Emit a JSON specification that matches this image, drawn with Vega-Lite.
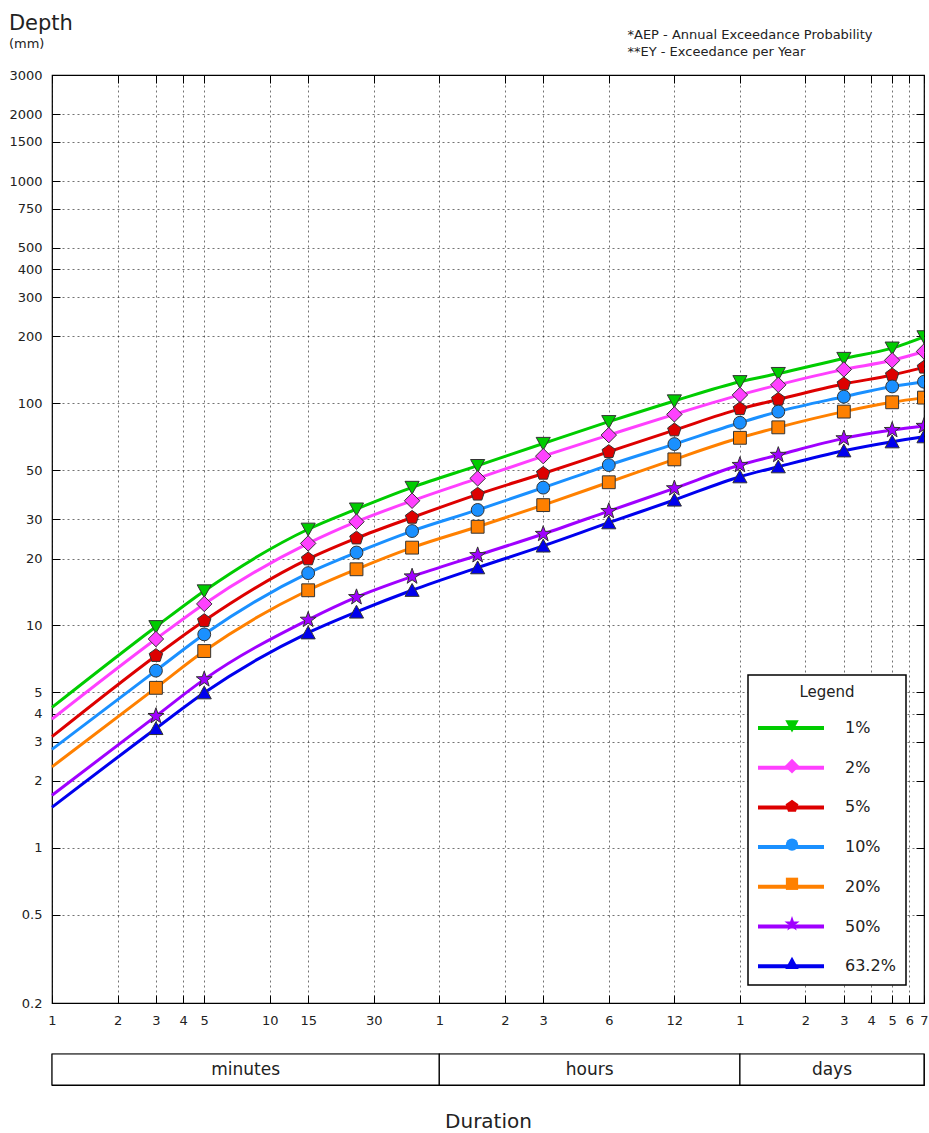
{
  "$schema": "https://vega.github.io/schema/vega-lite/v6.json",
  "padding": {"left": 8, "top": 12, "right": 4, "bottom": 0},
  "spacing": 24,
  "config": {
    "font": "DejaVu Sans",
    "view": {"stroke": "#000", "strokeWidth": 1.2},
    "axis": {"labelFont": "DejaVu Sans", "labelFontSize": 13, "labelColor": "#222", "tickColor": "#000", "tickSize": -8, "domain": false, "gridColor": "#000", "gridOpacity": 0.55, "gridDash": [2, 3], "labelFlush": false, "labelOverlap": false},
    "legend": {"strokeWidth": 1.5, "labelFont": "DejaVu Sans", "titleFont": "DejaVu Sans"}
  },
  "datasets": {
    "ifd": [
      {"d":1,"aep":"1%","v":4.28,"m":false},{"d":3,"aep":"1%","v":9.87,"m":true},{"d":5,"aep":"1%","v":14.3,"m":true},{"d":15,"aep":"1%","v":27.1,"m":true},{"d":25,"aep":"1%","v":33.4,"m":true},{"d":45,"aep":"1%","v":41.8,"m":true},{"d":90,"aep":"1%","v":52.4,"m":true},{"d":180,"aep":"1%","v":65.9,"m":true},{"d":360,"aep":"1%","v":82.6,"m":true},{"d":720,"aep":"1%","v":102.4,"m":true},{"d":1440,"aep":"1%","v":125,"m":true},{"d":2160,"aep":"1%","v":136,"m":true},{"d":4320,"aep":"1%","v":159,"m":true},{"d":7200,"aep":"1%","v":177,"m":true},{"d":10080,"aep":"1%","v":199,"m":true},
      {"d":1,"aep":"2%","v":3.79,"m":false},{"d":3,"aep":"2%","v":8.69,"m":true},{"d":5,"aep":"2%","v":12.5,"m":true},{"d":15,"aep":"2%","v":23.4,"m":true},{"d":25,"aep":"2%","v":29.3,"m":true},{"d":45,"aep":"2%","v":36.4,"m":true},{"d":90,"aep":"2%","v":45.9,"m":true},{"d":180,"aep":"2%","v":57.8,"m":true},{"d":360,"aep":"2%","v":71.9,"m":true},{"d":720,"aep":"2%","v":89.1,"m":true},{"d":1440,"aep":"2%","v":109,"m":true},{"d":2160,"aep":"2%","v":121,"m":true},{"d":4320,"aep":"2%","v":142,"m":true},{"d":7200,"aep":"2%","v":156,"m":true},{"d":10080,"aep":"2%","v":171,"m":true},
      {"d":1,"aep":"5%","v":3.16,"m":false},{"d":3,"aep":"5%","v":7.31,"m":true},{"d":5,"aep":"5%","v":10.5,"m":true},{"d":15,"aep":"5%","v":19.9,"m":true},{"d":25,"aep":"5%","v":24.7,"m":true},{"d":45,"aep":"5%","v":30.6,"m":true},{"d":90,"aep":"5%","v":38.9,"m":true},{"d":180,"aep":"5%","v":48.3,"m":true},{"d":360,"aep":"5%","v":60.5,"m":true},{"d":720,"aep":"5%","v":75.7,"m":true},{"d":1440,"aep":"5%","v":94.3,"m":true},{"d":2160,"aep":"5%","v":104,"m":true},{"d":4320,"aep":"5%","v":122,"m":true},{"d":7200,"aep":"5%","v":134,"m":true},{"d":10080,"aep":"5%","v":145,"m":true},
      {"d":1,"aep":"10%","v":2.77,"m":false},{"d":3,"aep":"10%","v":6.26,"m":true},{"d":5,"aep":"10%","v":9.12,"m":true},{"d":15,"aep":"10%","v":17.2,"m":true},{"d":25,"aep":"10%","v":21.3,"m":true},{"d":45,"aep":"10%","v":26.6,"m":true},{"d":90,"aep":"10%","v":33.1,"m":true},{"d":180,"aep":"10%","v":41.7,"m":true},{"d":360,"aep":"10%","v":52.7,"m":true},{"d":720,"aep":"10%","v":65.5,"m":true},{"d":1440,"aep":"10%","v":81.7,"m":true},{"d":2160,"aep":"10%","v":91.7,"m":true},{"d":4320,"aep":"10%","v":107,"m":true},{"d":7200,"aep":"10%","v":119,"m":true},{"d":10080,"aep":"10%","v":125,"m":true},
      {"d":1,"aep":"20%","v":2.31,"m":false},{"d":3,"aep":"20%","v":5.24,"m":true},{"d":5,"aep":"20%","v":7.67,"m":true},{"d":15,"aep":"20%","v":14.4,"m":true},{"d":25,"aep":"20%","v":17.9,"m":true},{"d":45,"aep":"20%","v":22.4,"m":true},{"d":90,"aep":"20%","v":27.8,"m":true},{"d":180,"aep":"20%","v":34.8,"m":true},{"d":360,"aep":"20%","v":44.1,"m":true},{"d":720,"aep":"20%","v":55.9,"m":true},{"d":1440,"aep":"20%","v":69.9,"m":true},{"d":2160,"aep":"20%","v":77.9,"m":true},{"d":4320,"aep":"20%","v":91.7,"m":true},{"d":7200,"aep":"20%","v":101,"m":true},{"d":10080,"aep":"20%","v":106,"m":true},
      {"d":1,"aep":"50%","v":1.72,"m":false},{"d":3,"aep":"50%","v":3.91,"m":true},{"d":5,"aep":"50%","v":5.72,"m":true},{"d":15,"aep":"50%","v":10.6,"m":true},{"d":25,"aep":"50%","v":13.4,"m":true},{"d":45,"aep":"50%","v":16.6,"m":true},{"d":90,"aep":"50%","v":20.7,"m":true},{"d":180,"aep":"50%","v":25.8,"m":true},{"d":360,"aep":"50%","v":32.7,"m":true},{"d":720,"aep":"50%","v":41.4,"m":true},{"d":1440,"aep":"50%","v":52.7,"m":true},{"d":2160,"aep":"50%","v":58.5,"m":true},{"d":4320,"aep":"50%","v":69.5,"m":true},{"d":7200,"aep":"50%","v":75.7,"m":true},{"d":10080,"aep":"50%","v":79.0,"m":true},
      {"d":1,"aep":"63.2%","v":1.52,"m":false},{"d":3,"aep":"63.2%","v":3.44,"m":true},{"d":5,"aep":"63.2%","v":4.98,"m":true},{"d":15,"aep":"63.2%","v":9.27,"m":true},{"d":25,"aep":"63.2%","v":11.5,"m":true},{"d":45,"aep":"63.2%","v":14.4,"m":true},{"d":90,"aep":"63.2%","v":18.2,"m":true},{"d":180,"aep":"63.2%","v":22.8,"m":true},{"d":360,"aep":"63.2%","v":29.0,"m":true},{"d":720,"aep":"63.2%","v":36.7,"m":true},{"d":1440,"aep":"63.2%","v":46.7,"m":true},{"d":2160,"aep":"63.2%","v":51.8,"m":true},{"d":4320,"aep":"63.2%","v":61.1,"m":true},{"d":7200,"aep":"63.2%","v":67.1,"m":true},{"d":10080,"aep":"63.2%","v":70.7,"m":true}
    ],
    "units": [
      {"unit": "minutes", "start": 1, "end": 60},
      {"unit": "hours", "start": 60, "end": 1440},
      {"unit": "days", "start": 1440, "end": 10080}
    ]
  },
  "vconcat": [
    {
      "width": 872,
      "height": 928,
      "data": {"name": "ifd"},
      "title": {"text": "Depth", "subtitle": "(mm)", "anchor": "start", "frame": "bounds", "fontSize": 21, "fontWeight": "normal", "subtitleFontSize": 13, "subtitlePadding": 4, "offset": -23, "color": "#222", "subtitleColor": "#222", "font": "DejaVu Sans", "subtitleFont": "DejaVu Sans"},
      "layer": [
        {
          "mark": {"type": "line", "strokeWidth": 3, "interpolate": "monotone"},
          "encoding": {
            "x": {"field": "d", "type": "quantitative", "scale": {"type": "log", "domain": [1, 10080], "nice": false},
              "axis": {"values": [1,2,3,4,5,10,15,30,60,120,180,360,720,1440,2880,4320,5760,7200,8640,10080], "labelExpr": "datum.value < 60 ? '' + datum.value : (datum.value < 1440 ? '' + datum.value / 60 : '' + datum.value / 1440)", "title": null, "grid": true, "labelPadding": 19}},
            "y": {"field": "v", "type": "quantitative", "scale": {"type": "log", "domain": [0.2, 3000], "nice": false},
              "axis": {"values": [0.2,0.5,1,2,3,4,5,10,20,30,50,100,200,300,400,500,750,1000,1500,2000,3000], "format": "~g", "grid": true, "labelPadding": 18,
                "title": ["*AEP - Annual Exceedance Probability", "**EY - Exceedance per Year"], "titleAngle": 0, "titleAlign": "left", "titleBaseline": "top", "titleX": 575, "titleY": -47, "titleFontSize": 13, "titleFontWeight": "normal", "titleLineHeight": 17, "titleColor": "#222", "titleFont": "DejaVu Sans"}},
            "color": {"field": "aep", "type": "nominal", "sort": ["1%","2%","5%","10%","20%","50%","63.2%"],
              "scale": {"range": ["#00cc00","#ff40ff","#dd0000","#1a90ff","#ff8000","#a000ff","#0000ee"]},
              "legend": {"orient": "none", "legendX": 696, "legendY": 600, "title": "Legend", "titleFontSize": 15, "titleFontWeight": "normal", "titleColor": "#222", "titleAnchor": "middle", "titlePadding": 20, "labelFontSize": 16, "labelColor": "#222", "symbolType": "M-6,0H6", "symbolSize": 121, "symbolStrokeWidth": 4, "symbolOffset": 25, "labelOffset": 46, "rowPadding": 23.7, "padding": 10, "strokeColor": "#000", "fillColor": "#fff"}}
          }
        },
        {
          "transform": [{"filter": "datum.m"}],
          "mark": {"type": "point", "filled": true, "size": 165, "stroke": "#333", "strokeWidth": 1, "opacity": 1, "clip": true},
          "encoding": {
            "x": {"field": "d", "type": "quantitative", "scale": {"type": "log", "domain": [1, 10080], "nice": false},
              "axis": {"orient": "top", "values": [1,2,3,4,5,10,15,30,60,120,180,360,720,1440,2880,4320,5760,7200,8640,10080], "labels": false, "grid": false, "title": null}},
            "y": {"field": "v", "type": "quantitative", "scale": {"type": "log", "domain": [0.2, 3000], "nice": false},
              "axis": {"orient": "right", "values": [0.2,0.5,1,2,3,4,5,10,20,30,50,100,200,300,400,500,750,1000,1500,2000,3000], "labels": false, "grid": false, "title": null}},
            "shape": {"field": "aep", "type": "nominal",
              "scale": {"domain": ["1%","2%","5%","10%","20%","50%","63.2%"], "range": ["M-1.1,-0.95L1.1,-0.95L0,1.05Z", "M0,-1.2L1.2,0L0,1.2L-1.2,0Z", "M0,-1.1L1.046,-0.34L0.647,0.89L-0.647,0.89L-1.046,-0.34Z", "circle", "square", "M0,-1.3L0.306,-0.421L1.236,-0.402L0.495,0.161L0.764,1.052L0,0.52L-0.764,1.052L-0.495,0.161L-1.236,-0.402L-0.306,-0.421Z", "M0,-1.05L1.1,0.95L-1.1,0.95Z"]},
              "legend": {"orient": "none", "legendX": 696, "legendY": 633, "title": null, "labelExpr": "''", "labelFontSize": 16, "symbolSize": 150, "symbolStrokeColor": "#333", "symbolStrokeWidth": 1, "symbolOpacity": 1, "symbolOffset": 26, "rowPadding": 21.2, "padding": 10}},
            "fill": {"field": "aep", "type": "nominal",
              "scale": {"domain": ["1%","2%","5%","10%","20%","50%","63.2%"], "range": ["#00cc00","#ff40ff","#dd0000","#1a90ff","#ff8000","#a000ff","#0000ee"]},
              "legend": {"orient": "none", "legendX": 696, "legendY": 633, "title": null, "labelExpr": "''", "labelFontSize": 16, "symbolSize": 150, "symbolStrokeColor": "#333", "symbolStrokeWidth": 1, "symbolOpacity": 1, "symbolOffset": 26, "rowPadding": 21.2, "padding": 10}}
          }
        }
      ],
      "resolve": {"axis": {"x": "independent", "y": "independent"}}
    },
    {
      "width": 872,
      "height": 31,
      "data": {"name": "units"},
      "layer": [
        {
          "mark": {"type": "rect", "fill": "#fff", "stroke": "#000", "strokeWidth": 1.2},
          "encoding": {
            "x": {"field": "start", "type": "quantitative", "scale": {"type": "log", "domain": [1, 10080], "nice": false},
              "axis": {"labels": false, "ticks": false, "grid": false, "domain": false, "title": "Duration", "titleFontSize": 20, "titleFontWeight": "normal", "titlePadding": 26, "titleColor": "#222", "titleFont": "DejaVu Sans"}},
            "x2": {"field": "end"}
          }
        },
        {
          "transform": [{"calculate": "sqrt(datum.start * datum.end)", "as": "mid"}],
          "mark": {"type": "text", "fontSize": 17, "color": "#222", "font": "DejaVu Sans"},
          "encoding": {
            "x": {"field": "mid", "type": "quantitative",
              "axis": {"labels": false, "ticks": false, "grid": false, "domain": false, "title": "Duration", "titleFontSize": 20, "titleFontWeight": "normal", "titlePadding": 26, "titleColor": "#222", "titleFont": "DejaVu Sans"}},
            "text": {"field": "unit"}
          }
        }
      ]
    }
  ]
}
